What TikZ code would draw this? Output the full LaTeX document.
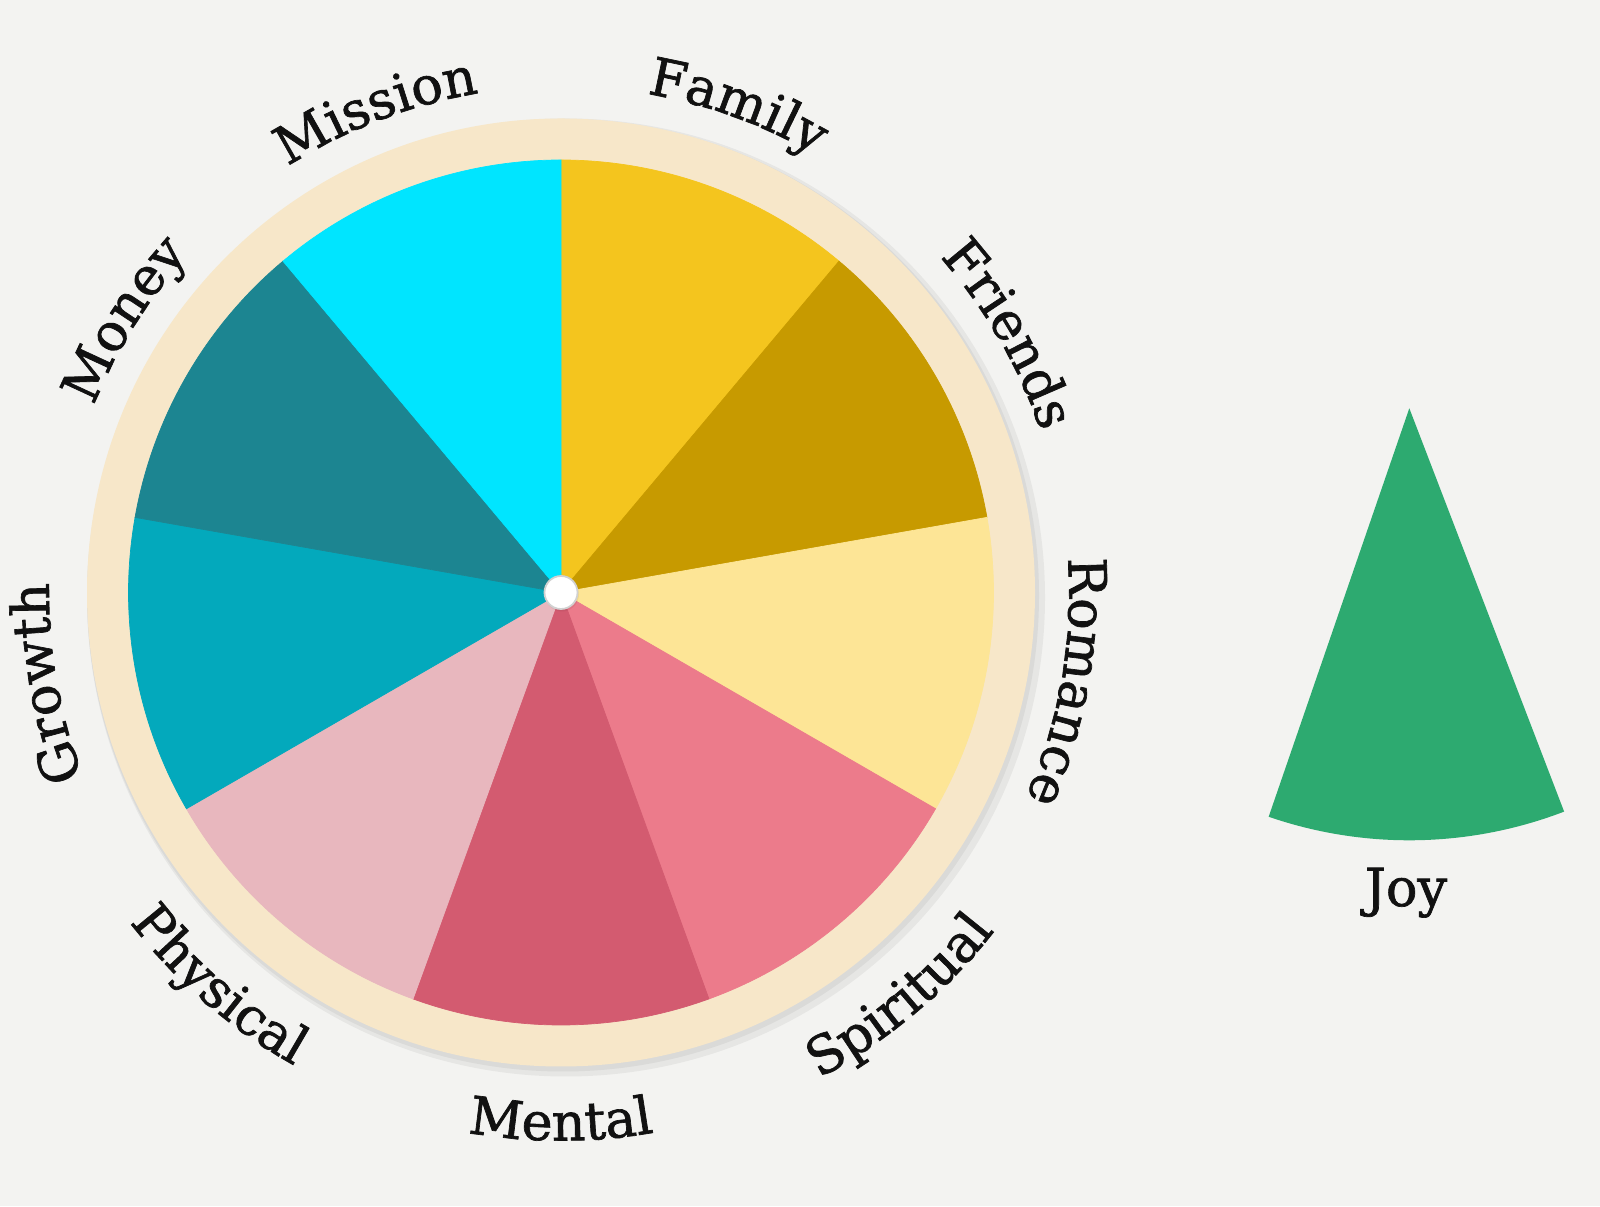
\documentclass[tikz,border=0pt]{standalone}
\usepackage{fontspec}
\setmainfont{DejaVu Serif}
\newfontfamily\lblfamily{DejaVu Serif}[FakeBold=1.3]
\usepackage{tikz}
\usetikzlibrary{decorations.text}
\usepackage{xcolor}
\newcommand{\lblfont}{\lblfamily\fontsize{14.9pt}{17pt}\selectfont}
\definecolor{paperc}{RGB}{243,243,241}
\definecolor{ringc}{RGB}{247,231,201}
\definecolor{famc}{RGB}{244,197,30}
\definecolor{fric}{RGB}{199,154,0}
\definecolor{romc}{RGB}{253,229,150}
\definecolor{spic}{RGB}{236,123,139}
\definecolor{menc}{RGB}{211,91,112}
\definecolor{phyc}{RGB}{232,183,190}
\definecolor{groc}{RGB}{3,169,188}
\definecolor{monc}{RGB}{28,133,145}
\definecolor{misc}{RGB}{0,229,255}
\definecolor{joyc}{RGB}{45,170,112}
\definecolor{inkc}{RGB}{17,17,17}
\tikzset{
  sector/.style={line width=0.2pt},
  shade/.style={black,opacity=0.05},
  hub/.style={circle,fill=white,draw=black!18,line width=0.5pt,minimum size=3.3mm,inner sep=0pt},
  wheellbl/.style={decorate,decoration={text along path,text align=center,text color=inkc,text={|\lblfont|#1}}},
  lbl/.style={font=\lblfont,text=inkc,inner sep=0pt},
}
\begin{document}
\begin{tikzpicture}[x=0.01cm,y=0.01cm]
  \fill[paperc] (0,0) rectangle (1600,1206);
  \useasboundingbox (0,0) rectangle (1600,1206);
  \coordinate (C) at (561,613.5);
  % ring with a soft shadow
  \fill[shade] ([shift={(5,-5)}]C) circle[radius=479];
  \fill[shade] ([shift={(2,-3)}]C) circle[radius=476];
  \fill[ringc] (C) circle[radius=474];
  % the nine areas, clockwise from the top
  \foreach \a/\c in {90/famc,50/fric,10/romc,-30/spic,-70/menc,-110/phyc,-150/groc,170/monc,130/misc}
    \filldraw[sector,\c] (C) -- ([shift={(\a:432.5)}]C) arc[start angle=\a, end angle=\a-40, radius=432.5] -- cycle;
  \fill[shade] ([shift={(1,-2)}]C) circle[radius=17];
  \node[hub] (hub) at (C) {};
  % labels round the wheel
  \foreach \a/\lbl/\r in {111/Mission/506,70/Family/506,30/Friends/506,-10/Romance/508,190/Growth/512,148/Money/503}
    \path[wheellbl/.expanded=\lbl] ([shift={(\a+30:\r)}]C) arc[start angle=\a+30, end angle=\a-30, radius=\r];
  \foreach \a/\lbl/\r in {-50/Spiritual/550,-90/Mental/548,-131/Physical/543}
    \path[wheellbl/.expanded=\lbl] ([shift={(\a-30:\r)}]C) arc[start angle=\a-30, end angle=\a+30, radius=\r];
  % single piece
  \coordinate (J) at (1409.3,797.7);
  \fill[joyc] (J) -- ([shift={(-109:432)}]J) arc[start angle=-109, end angle=-69, radius=432] -- cycle;
  \node[lbl,anchor=base] (joy) at (1406,300) {Joy};
\end{tikzpicture}
\end{document}
